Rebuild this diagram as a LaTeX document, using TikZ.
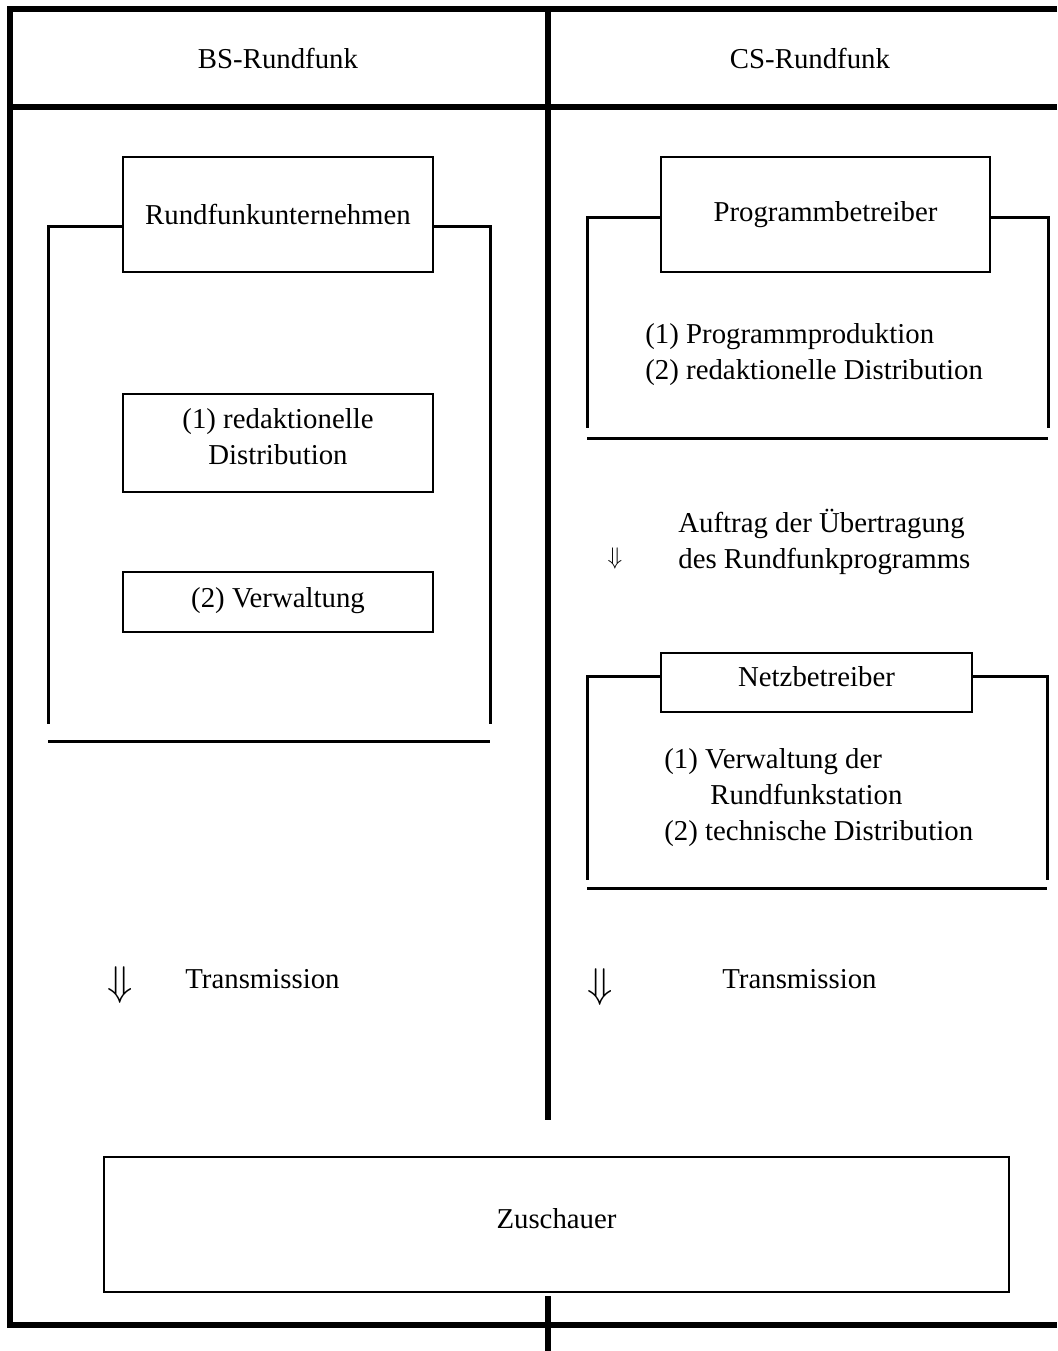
\documentclass[tikz,border=0pt]{standalone}
\usepackage{fontspec}
\setmainfont{Liberation Serif}
\usetikzlibrary{positioning,calc}

\begin{document}
\begin{tikzpicture}
    \tikzset{x=0.5pt,y=-0.5pt,
      rahmen/.style={line width=2.6pt},
      klammer/.style={line width=1.5pt},
      box/.style={draw,rectangle,line width=0.8pt,inner sep=0pt,align=center,font=\fontsize{14.4}{18}\selectfont},
      txt/.style={inner sep=0pt,align=left,font=\fontsize{14.4}{18}\selectfont},
      pfeil/.style={inner sep=0pt,font=\fontsize{20.74}{21}\selectfont}}
    \useasboundingbox (0,0) rectangle (1057,1351);
%   frame
    \draw[rahmen] (1057,9) -- (10,9) -- (10,1325) -- (1057,1325);
    \draw[rahmen] (10,107) -- (1057,107);
    \draw[rahmen] (548,9) -- (548,1120) (548,1296) -- (548,1351);
    \node [txt]   (bs) at (278,58)  {BS-Rundfunk};
    \node [txt]   (cs) at (810,58)  {CS-Rundfunk};
%   BS side
    \node [box,minimum width=155pt,minimum height=57.5pt]   (rfu) at (278,214.5)  {Rundfunkunternehmen};
    \node [box,minimum width=155pt,minimum height=49pt,text depth=7pt]     (redak) at (278,443)  {(1) redaktionelle\\Distribution};
    \node [box,minimum width=155pt,minimum height=30pt,text depth=5pt]     (verw) at (278,602)  {(2) Verwaltung};
    \node [pfeil]   (trL) at (120,985)  {$\Downarrow$};
    \node [txt,anchor=west]   (tmL) at (185,979)  {Transmission};
%   CS side
    \node [box,minimum width=164.5pt,minimum height=57.5pt] (prog) at (825.5,214.5)  {Programmbetreiber};
    \node [txt,anchor=west]   (progtxt) at (645,355)  {(1) Programmproduktion\\(2) redaktionelle Distribution};
    \node [txt]   (auL) at (615,558)  {\fontsize{12}{12}\selectfont$\Downarrow$};
    \node [txt,anchor=west]   (auftrag) at (678,541.5)  {Auftrag der Übertragung\\des Rundfunkprogramms};
    \node [box,minimum width=155.5pt,minimum height=29.5pt,text depth=6pt] (netz) at (816.5,682.5)  {Netzbetreiber};
    \node [txt,anchor=west]   (netztxt) at (664,798)  {(1) Verwaltung der\\\hspace*{23pt}Rundfunkstation\\(2) technische Distribution};
    \node [pfeil]   (trR) at (600,987)  {$\Downarrow$};
    \node [txt,anchor=west]   (tmR) at (722,979)  {Transmission};
%   brackets round the boxes
    \foreach \kn/\xl/\xr/\yo/\yu/\yb in {rfu/48/490/226/724/741,prog/587/1048/217/428/438,netz/587/1047/676/880/888}
     { \coordinate (\kn-lo) at (\xl,\yo);  \coordinate (\kn-ro) at (\xr,\yo);
       \coordinate (\kn-lu) at (\xl,\yu);  \coordinate (\kn-ru) at (\xr,\yu);
       \draw[klammer] (\kn-lo -| \kn.west) -- (\kn-lo) -- (\kn-lu)
                      (\kn-ro -| \kn.east) -- (\kn-ro) -- (\kn-ru);
       \draw[klammer] (\xl,\yb) -- (\xr,\yb);
     }
    \node [box,minimum width=452.5pt,minimum height=67.5pt,text depth=6pt] (zusch) at (556.5,1224.5)  {Zuschauer};
\end{tikzpicture}
\end{document}
